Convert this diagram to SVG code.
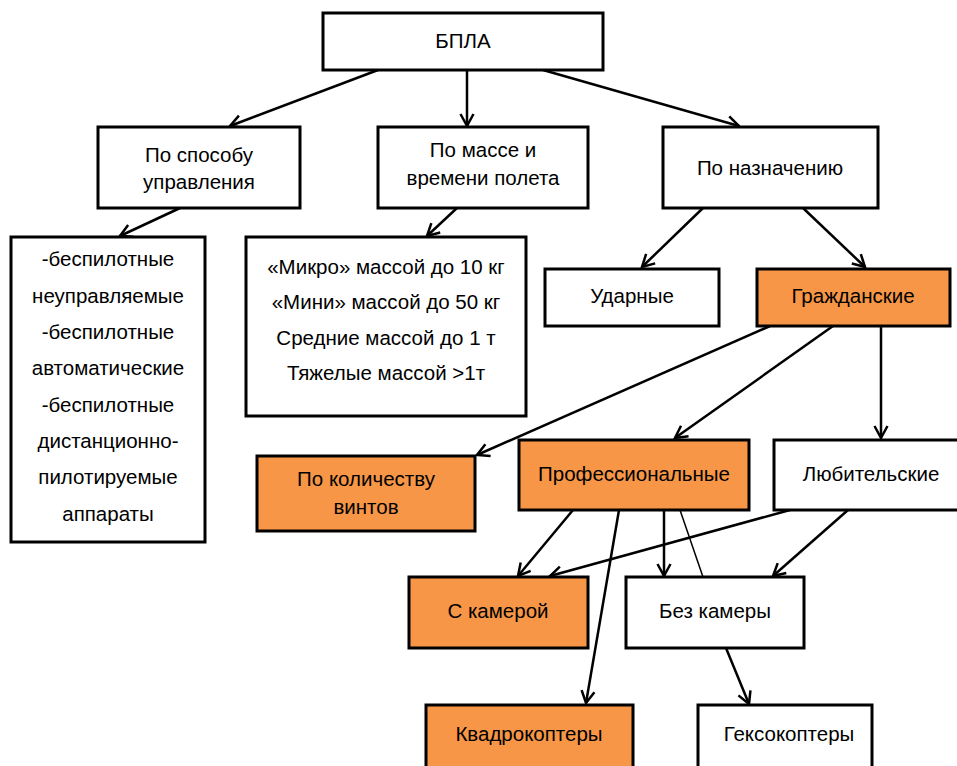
<svg xmlns="http://www.w3.org/2000/svg" width="957" height="766" viewBox="0 0 957 766">
<defs>
<marker id="arr" markerUnits="userSpaceOnUse" markerWidth="20" markerHeight="20" viewBox="-14 -10 16 20" refX="0" refY="0" orient="auto">
<path d="M-12,-6.5 L0,0 L-12,6.5" fill="none" stroke="#000" stroke-width="2.5"/>
</marker>
<style>
.box{fill:#fff;stroke:#000;stroke-width:3}
.org{fill:#F79646;stroke:#000;stroke-width:3}
text{font-family:"Liberation Sans",Arial,sans-serif;font-size:20.5px;fill:#000;text-anchor:middle}
.c{stroke:#000;stroke-width:2.5;fill:none}
.a{marker-end:url(#arr)}
.thin{stroke:#000;stroke-width:1.5;fill:none}
</style>
</defs>
<rect width="957" height="766" fill="#fff"/>
<g id="connectors">
<line class="c a" x1="378" y1="70" x2="230" y2="126"/>
<line class="c a" x1="467" y1="70" x2="467" y2="126"/>
<line class="c a" x1="543" y1="70" x2="739" y2="126"/>
<line class="c a" x1="180" y1="208" x2="120" y2="236"/>
<line class="c a" x1="457" y1="208" x2="427" y2="236"/>
<line class="c a" x1="703" y1="208" x2="642" y2="267"/>
<line class="c a" x1="803" y1="208" x2="865" y2="267"/>
<line class="c a" x1="770" y1="326" x2="477" y2="455"/>
<line class="c a" x1="833" y1="326" x2="675" y2="438"/>
<line class="c a" x1="881" y1="326" x2="881" y2="438"/>
<line class="c a" x1="573" y1="510" x2="518" y2="576"/>
<line class="c a" x1="619" y1="510" x2="586" y2="703"/>
<line class="c a" x1="664" y1="510" x2="664" y2="576"/>
<line class="thin" x1="680" y1="510" x2="703" y2="577"/>
<line class="c a" x1="790" y1="510" x2="550" y2="576"/>
<line class="c a" x1="848" y1="510" x2="773" y2="576"/>
<line class="c a" x1="726" y1="648" x2="749" y2="704"/>
</g>
<g id="n-bpla"><rect class="box" x="323" y="13" width="280" height="57"/><text x="463" y="48">БПЛА</text></g>
<g id="n-sposob"><rect class="box" x="98" y="127" width="202" height="81"/><text x="199" y="162">По способу</text><text x="199" y="189">управления</text></g>
<g id="n-massa"><rect class="box" x="378" y="127" width="210" height="81"/><text x="483" y="157">По массе и</text><text x="483" y="185">времени полета</text></g>
<g id="n-naznach"><rect class="box" x="663" y="127" width="215" height="81"/><text x="770" y="175">По назначению</text></g>
<g id="n-list1"><rect class="box" x="11" y="237" width="194" height="305"/>
<text x="108" y="266">-беспилотные</text>
<text x="108" y="303">неуправляемые</text>
<text x="108" y="339">-беспилотные</text>
<text x="108" y="375">автоматические</text>
<text x="108" y="412">-беспилотные</text>
<text x="108" y="448">дистанционно-</text>
<text x="108" y="484">пилотируемые</text>
<text x="108" y="521">аппараты</text>
</g>
<g id="n-list2"><rect class="box" x="246" y="237" width="280" height="179"/>
<text x="386" y="274">«Микро» массой до 10 кг</text>
<text x="386" y="309">«Мини» массой до 50 кг</text>
<text x="386" y="345">Средние массой до 1 т</text>
<text x="386" y="380">Тяжелые массой &gt;1т</text>
</g>
<g id="n-udar"><rect class="box" x="545" y="269" width="174" height="57"/><text x="632" y="303">Ударные</text></g>
<g id="n-grazh"><rect class="org" x="757" y="269" width="193" height="57"/><text x="853" y="303">Гражданские</text></g>
<g id="n-vint"><rect class="org" x="257" y="456" width="218" height="75"/><text x="366" y="486">По количеству</text><text x="366" y="514">винтов</text></g>
<g id="n-prof"><rect class="org" x="519" y="440" width="230" height="70"/><text x="634" y="481">Профессиональные</text></g>
<g id="n-lub"><rect class="box" x="774" y="440" width="200" height="70"/><text x="871" y="481">Любительские</text></g>
<g id="n-scam"><rect class="org" x="409" y="577" width="179" height="71"/><text x="498" y="618">С камерой</text></g>
<g id="n-bezcam"><rect class="box" x="626" y="577" width="178" height="71"/><text x="715" y="618">Без камеры</text></g>
<g id="n-kvadro"><rect class="org" x="426" y="705" width="207" height="80"/><text x="529" y="741">Квадрокоптеры</text></g>
<g id="n-geks"><rect class="box" x="698" y="705" width="174" height="80"/><text x="789" y="741">Гексокоптеры</text></g>
</svg>
